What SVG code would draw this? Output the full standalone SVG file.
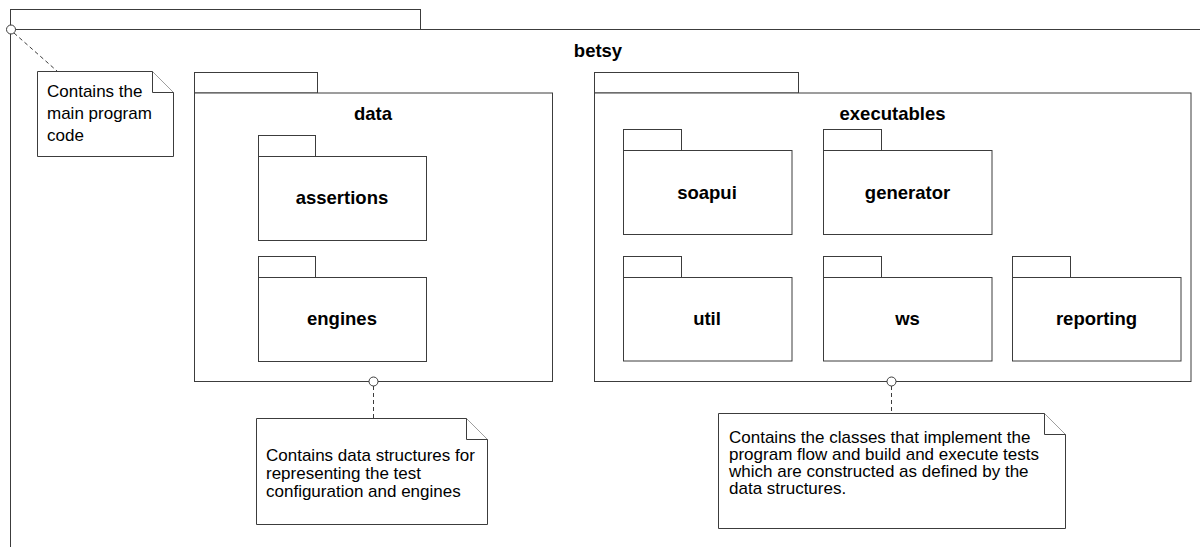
<svg xmlns="http://www.w3.org/2000/svg" width="1200" height="547" viewBox="0 0 1200 547">
<style>
.pk{fill:#fff;stroke:#3c3c3c;stroke-width:1}
.lbl{font-family:"Liberation Sans",Arial,sans-serif;font-weight:bold;font-size:18.5px;fill:#000;text-anchor:middle}
.nt{fill:#fff;stroke:#3c3c3c;stroke-width:1}
.ntx{font-family:"Liberation Sans",Arial,sans-serif;font-size:17px;fill:#000}
.dash{fill:none;stroke:#3c3c3c;stroke-width:1;stroke-dasharray:4,3}
.anc{fill:#fff;stroke:#3c3c3c;stroke-width:1}
</style>
<rect width="1200" height="547" fill="#fff"/>
<g id="betsy">
  <rect class="pk" x="10.5" y="9.5" width="410" height="20"/>
  <rect class="pk" x="10.5" y="29.5" width="1200" height="530"/>
  <text class="lbl" x="598" y="57">betsy</text>
</g>
<g id="data">
  <rect class="pk" x="194.5" y="72.5" width="123" height="20.5"/>
  <rect class="pk" x="194.5" y="93" width="358" height="288.5"/>
  <text class="lbl" x="373" y="120">data</text>
</g>
<g id="assertions">
  <rect class="pk" x="258.5" y="135.5" width="57" height="21"/>
  <rect class="pk" x="258.5" y="156.5" width="168" height="84"/>
  <text class="lbl" x="342" y="204">assertions</text>
</g>
<g id="engines">
  <rect class="pk" x="258.5" y="256.5" width="57" height="21"/>
  <rect class="pk" x="258.5" y="277.5" width="168" height="84"/>
  <text class="lbl" x="342" y="325">engines</text>
</g>
<g id="executables">
  <rect class="pk" x="594.5" y="72.5" width="204" height="20.5"/>
  <rect class="pk" x="594.5" y="93" width="596.5" height="288.5"/>
  <text class="lbl" x="892.5" y="120">executables</text>
</g>
<g id="soapui">
  <rect class="pk" x="623.5" y="129.5" width="58" height="21"/>
  <rect class="pk" x="623.5" y="150.5" width="168.5" height="84"/>
  <text class="lbl" x="707" y="199">soapui</text>
</g>
<g id="generator">
  <rect class="pk" x="823.5" y="129.5" width="58" height="21"/>
  <rect class="pk" x="823.5" y="150.5" width="168.5" height="84"/>
  <text class="lbl" x="907.5" y="199">generator</text>
</g>
<g id="util">
  <rect class="pk" x="623.5" y="256.5" width="58" height="21"/>
  <rect class="pk" x="623.5" y="277.5" width="168.5" height="83.5"/>
  <text class="lbl" x="707" y="325">util</text>
</g>
<g id="ws">
  <rect class="pk" x="823.5" y="256.5" width="58" height="21"/>
  <rect class="pk" x="823.5" y="277.5" width="168.5" height="83.5"/>
  <text class="lbl" x="907.5" y="325">ws</text>
</g>
<g id="reporting">
  <rect class="pk" x="1012.5" y="256.5" width="58" height="21"/>
  <rect class="pk" x="1012.5" y="277.5" width="168.5" height="83.5"/>
  <text class="lbl" x="1096.5" y="325">reporting</text>
</g>
<g id="connectors">
  <line class="dash" x1="14" y1="33" x2="57" y2="71"/>
  <circle class="anc" cx="11" cy="29.5" r="4.5"/>
  <line class="dash" x1="373.5" y1="386" x2="373.5" y2="418"/>
  <circle class="anc" cx="373.5" cy="381.5" r="4.5"/>
  <line class="dash" x1="891.5" y1="386" x2="891.5" y2="413"/>
  <circle class="anc" cx="891.5" cy="381.5" r="4.5"/>
</g>
<g id="note1">
  <path class="nt" d="M37.5 71.5 H152.5 L173.5 92.5 V156.5 H37.5 Z"/>
  <path class="nt" d="M152.5 71.5 V92.5 H173.5" fill="none"/>
  <text class="ntx" x="47" y="97">Contains the</text>
  <text class="ntx" x="47" y="119">main program</text>
  <text class="ntx" x="47" y="141">code</text>
</g>
<g id="note2">
  <path class="nt" d="M256.5 418.5 H466.5 L487.5 439.5 V524.5 H256.5 Z"/>
  <path class="nt" d="M466.5 418.5 V439.5 H487.5" fill="none"/>
  <text class="ntx" x="266" y="461">Contains data structures for</text>
  <text class="ntx" x="266" y="479">representing the test</text>
  <text class="ntx" x="266" y="497">configuration and engines</text>
</g>
<g id="note3">
  <path class="nt" d="M718.5 413.5 H1044.5 L1065.5 434.5 V528.5 H718.5 Z"/>
  <path class="nt" d="M1044.5 413.5 V434.5 H1065.5" fill="none"/>
  <text class="ntx" x="729" y="443">Contains the classes that implement the</text>
  <text class="ntx" x="729" y="460">program flow and build and execute tests</text>
  <text class="ntx" x="729" y="477">which are constructed as defined by the</text>
  <text class="ntx" x="729" y="494">data structures.</text>
</g>
</svg>
